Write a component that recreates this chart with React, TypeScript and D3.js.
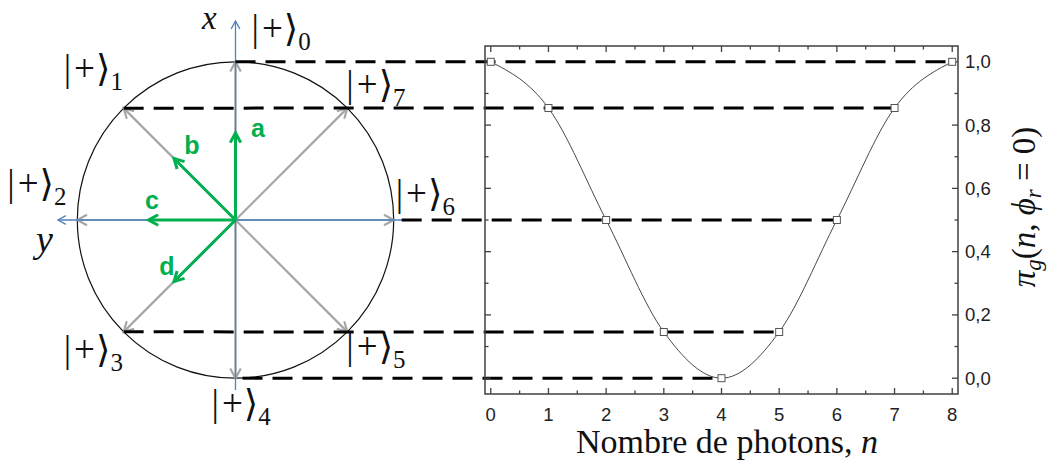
import { useEffect, useRef } from 'react';
import * as d3 from 'd3';

const photonN = [0, 1, 2, 3, 4, 5, 6, 7, 8];
const piG = [1.0, 0.854, 0.5, 0.146, 0.0, 0.146, 0.5, 0.854, 1.0];

const xTicks = [0, 1, 2, 3, 4, 5, 6, 7, 8];
const xTickLabels = ['0', '1', '2', '3', '4', '5', '6', '7', '8'];
const yTicks = [0, 0.2, 0.4, 0.6, 0.8, 1.0];
const yTickLabels = ['0,0', '0,2', '0,4', '0,6', '0,8', '1,0'];

// States |+>_k on the circle, angle in degrees counter-clockwise from x (up)
const stateIndex = [0, 1, 2, 3, 4, 5, 6, 7];
const stateAngle = [0, 45, 90, 135, 180, 225, 270, 315];

// Green vectors a..d (angle in degrees, length relative to radius)
const vecNames = ['a', 'b', 'c', 'd'];
const vecAngle = [0, 45, 90, 135];
const vecLength = [0.55, 0.55, 0.55, 0.55];

// dashed links: circle state -> last photon number with the same value
const linkState = [0, 1, 6, 3, 4];
const linkPhoton = [8, 7, 6, 5, 4];

const W = 1048;
const H = 465;
const SERIF = '"Liberation Serif", "DejaVu Serif", serif';
const SANS = '"Liberation Sans", Arial, sans-serif';
const GRAY = '#a6a6a6';
const BLUE = '#4f81bd';
const GREEN = '#00b050';

// label placement around each state ("+" centre offset from the state point)
const labelOffset: [number, number][] = [
  [38, -31], [-38, -37], [-48, -34], [-38, 20],
  [-2, 28], [21, 17], [24, -24], [21, -21],
];
const vecLabelPos: [number, number][] = [[258, 128], [192, 145], [152, 200], [167, 266]];

function arrow(g: any, x1: number, y1: number, x2: number, y2: number,
  color: string, width: number, head: number) {
  const a = Math.atan2(y2 - y1, x2 - x1);
  g.append('line')
    .attr('x1', x1).attr('y1', y1).attr('x2', x2).attr('y2', y2)
    .attr('stroke', color).attr('stroke-width', width);
  const w = 0.5;
  const p = [
    [x2 - head * Math.cos(a - w), y2 - head * Math.sin(a - w)],
    [x2, y2],
    [x2 - head * Math.cos(a + w), y2 - head * Math.sin(a + w)],
  ];
  g.append('path')
    .attr('d', d3.line()(p as any))
    .attr('fill', 'none').attr('stroke', color).attr('stroke-width', width)
    .attr('stroke-linejoin', 'miter');
}

export default function App() {
  const ref = useRef<SVGSVGElement>(null);

  useEffect(() => {
    const svg = d3.select(ref.current);
    svg.selectAll('*').remove();

    const x = d3.scaleLinear().domain([-0.1, 8.1]).range([485, 958]);
    const y = d3.scaleLinear().domain([-0.05, 1.05]).range([394, 46]);

    // circle shares the y scale: top = 1, bottom = 0
    const cx = 235.5;
    const cy = y(0.5);
    const R = y(0) - y(0.5);
    const statePos = (deg: number, r = R) => {
      const t = (deg * Math.PI) / 180;
      return [cx - r * Math.sin(t), cy - r * Math.cos(t)];
    };

    const left = svg.append('g');
    left.append('circle')
      .attr('cx', cx).attr('cy', cy).attr('r', R)
      .attr('fill', 'none').attr('stroke', '#111').attr('stroke-width', 1.2);

    // gray state arrows
    stateIndex.forEach((k) => {
      const [sx, sy] = statePos(stateAngle[k]);
      arrow(left, cx, cy, sx, sy, GRAY, 2.2, 11);
    });

    // blue axes
    arrow(left, cx, 390, cx, 21, BLUE, 1.3, 9);
    arrow(left, 403, cy, 58, cy, BLUE, 1.3, 9);

    // green vectors
    vecNames.forEach((name, i) => {
      const [vx, vy] = statePos(vecAngle[i], R * vecLength[i]);
      arrow(left, cx, cy, vx, vy, GREEN, 3, 11);
      left.append('text')
        .attr('x', vecLabelPos[i][0]).attr('y', vecLabelPos[i][1])
        .attr('text-anchor', 'middle').attr('dominant-baseline', 'central')
        .attr('fill', GREEN).attr('font-family', SANS)
        .attr('font-weight', 'bold').attr('font-size', 25)
        .text(name);
    });

    // state labels |+>_k
    stateIndex.forEach((k) => {
      const [sx, sy] = statePos(stateAngle[k]);
      const px = sx + labelOffset[k][0];
      const py = sy + labelOffset[k][1];
      const t = left.append('text')
        .attr('x', px - 22).attr('y', py + 10)
        .attr('font-family', SERIF).attr('font-size', 37).attr('fill', '#111');
      t.append('tspan').text('|');
      t.append('tspan').attr('dx', 3).text('+');
      t.append('tspan').attr('dx', 1).text('⟩');
      t.append('tspan').attr('font-size', 25).attr('dy', 9).text(String(k));
    });

    // axis letters
    left.append('text').attr('x', 202).attr('y', 29)
      .attr('font-family', SERIF).attr('font-style', 'italic').attr('font-size', 33)
      .attr('fill', '#111').text('x');
    left.append('text').attr('x', 36).attr('y', 252)
      .attr('font-family', SERIF).attr('font-style', 'italic').attr('font-size', 38)
      .attr('fill', '#111').text('y');

    // dashed links
    linkState.forEach((k, i) => {
      const [sx, sy] = statePos(stateAngle[k]);
      const startX = k === 6 ? sx + 8 : k === 4 ? sx + 7 : sx;
      svg.append('line')
        .attr('x1', startX).attr('y1', sy)
        .attr('x2', x(linkPhoton[i])).attr('y2', y(piG[linkPhoton[i]]))
        .attr('stroke', '#000').attr('stroke-width', 3)
        .attr('stroke-dasharray', '20 10');
    });

    // plot frame + inward ticks
    const plot = svg.append('g');
    const [x0, x1] = x.range();
    const [y0, y1] = y.range();
    const frame = '#404040';
    const minorX = d3.range(0.5, 8, 1);
    const minorY = d3.range(0.1, 1, 0.2);
    const tick = (xa: number, ya: number, xb: number, yb: number) =>
      plot.append('line').attr('x1', xa).attr('y1', ya).attr('x2', xb).attr('y2', yb)
        .attr('stroke', frame).attr('stroke-width', 1.3);
    xTicks.forEach((v) => { tick(x(v), y0, x(v), y0 - 6); tick(x(v), y1, x(v), y1 + 6); });
    minorX.forEach((v) => { tick(x(v), y0, x(v), y0 - 3.5); tick(x(v), y1, x(v), y1 + 3.5); });
    yTicks.forEach((v) => { tick(x0, y(v), x0 + 6, y(v)); tick(x1, y(v), x1 - 6, y(v)); });
    minorY.forEach((v) => { tick(x0, y(v), x0 + 3.5, y(v)); tick(x1, y(v), x1 - 3.5, y(v)); });
    plot.append('rect')
      .attr('x', x0).attr('y', y1).attr('width', x1 - x0).attr('height', y0 - y1)
      .attr('fill', 'none').attr('stroke', frame).attr('stroke-width', 1.5);

    xTicks.forEach((v, i) => {
      plot.append('text').attr('x', x(v)).attr('y', 421)
        .attr('text-anchor', 'middle').attr('font-family', SANS).attr('font-size', 18.5)
        .attr('fill', '#222').text(xTickLabels[i]);
    });
    yTicks.forEach((v, i) => {
      plot.append('text').attr('x', 965).attr('y', y(v))
        .attr('dominant-baseline', 'central').attr('font-family', SANS).attr('font-size', 18.5)
        .attr('fill', '#222').text(yTickLabels[i]);
    });

    // curve + markers
    const pts = photonN.map((n, i) => [x(n), y(piG[i])] as [number, number]);
    plot.append('path')
      .attr('d', d3.line().curve(d3.curveMonotoneX)(pts))
      .attr('fill', 'none').attr('stroke', '#333').attr('stroke-width', 0.9);
    pts.forEach(([px, py]) => {
      plot.append('rect')
        .attr('x', px - 3.5).attr('y', py - 3.5).attr('width', 7).attr('height', 7)
        .attr('fill', '#fff').attr('stroke', '#555').attr('stroke-width', 1);
    });

    // titles
    const xt = plot.append('text').attr('x', 727).attr('y', 453)
      .attr('text-anchor', 'middle').attr('font-family', SERIF).attr('font-size', 34)
      .attr('fill', '#111');
    xt.append('tspan').text('Nombre de photons, ');
    xt.append('tspan').attr('font-style', 'italic').text('n');

    const yt = plot.append('text')
      .attr('transform', 'translate(1035,207) rotate(-90)')
      .attr('text-anchor', 'middle').attr('font-family', SERIF).attr('font-size', 33)
      .attr('fill', '#111');
    yt.append('tspan').attr('font-style', 'italic').text('π');
    yt.append('tspan').attr('font-style', 'italic').attr('font-size', 23).attr('dy', 6).text('g');
    yt.append('tspan').attr('dy', -6).text('(');
    yt.append('tspan').attr('font-style', 'italic').text('n');
    yt.append('tspan').text(', ');
    yt.append('tspan').attr('font-style', 'italic').text('ϕ');
    yt.append('tspan').attr('font-style', 'italic').attr('font-size', 23).attr('dy', 6).text('r');
    yt.append('tspan').attr('dy', -6).text(' = 0)');
  }, []);

  return (
    <div style={{ position: 'absolute', left: 0, top: 0 }}>
      <svg ref={ref} width={W} height={H} style={{ display: 'block', background: '#fff' }} />
    </div>
  );
}
